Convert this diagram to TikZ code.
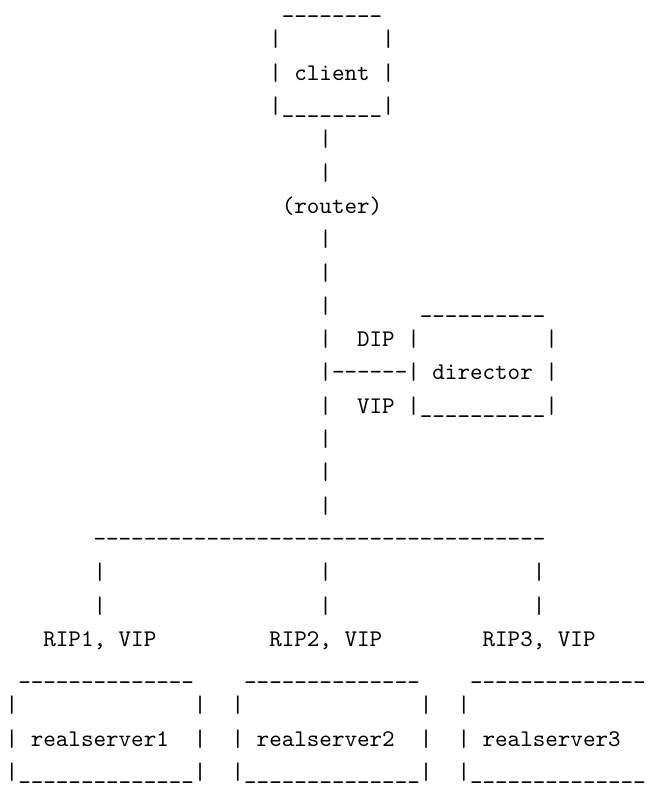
\documentclass[tikz,border=0pt]{standalone}
\newcommand\asciifont{\fontsize{10pt}{13.93pt}\selectfont\ttfamily\frenchspacing}
\newcommand\hy{\hbox{-}}
\newcommand\rep[2]{\foreach \i in {1,...,#1}{#2}}
\begin{document}
\begin{tikzpicture}[scale=2.3905, transform shape, x=5.25pt, y=-13.93pt,
  asc/.style={anchor=base west, inner sep=0pt, outer sep=0pt, font=\asciifont}]
\fill[white] (0pt,0pt) rectangle (272.33pt,-329.64pt);
\useasboundingbox (0pt,0pt) rectangle (272.33pt,-329.64pt);
\begin{scope}[shift={(0.456,0.411)}]
% client box
\node[asc] (ctop) at (22,0) {\smash{\rep{8}{\_}}};
\node[asc] (cl1) at (21,1) {|};
\node[asc] (cr1) at (30,1) {|};
\node[asc] (client) at (21,2) {| client |};
\node[asc] (cbot) at (21,3) {|\rep{8}{\_}|};
% line to router
\node[asc] (v4) at (25,4) {|};
\node[asc] (v5) at (25,5) {|};
\node[asc] (router) at (22,6) {(router)};
\node[asc] (v7) at (25,7) {|};
\node[asc] (v8) at (25,8) {|};
% director
\node[asc] (v9) at (25,9) {|};
\node[asc] (dtop) at (33,9) {\rep{10}{\_}};
\node[asc] (v10) at (25,10) {|};
\node[asc] (dip) at (28,10) {DIP};
\node[asc] (dl10) at (32,10) {|};
\node[asc] (dr10) at (43,10) {|};
\node[asc] (director) at (25,11) {|\rep{6}{\hy}| director |};
\node[asc] (v12) at (25,12) {|};
\node[asc] (vip) at (28,12) {VIP};
\node[asc] (dbot) at (32,12) {|\rep{10}{\_}|};
\node[asc] (v13) at (25,13) {|};
\node[asc] (v14) at (25,14) {|};
\node[asc] (v15) at (25,15) {|};
% bus
\node[asc] (bus) at (7,16) {\rep{36}{\hy}};
\node[asc] (a17) at (7,17) {|};
\node[asc] (b17) at (25,17) {|};
\node[asc] (c17) at (42,17) {|};
\node[asc] (a18) at (7,18) {|};
\node[asc] (b18) at (25,18) {|};
\node[asc] (c18) at (42,18) {|};
\node[asc] (rip1) at (3,19) {RIP1, VIP};
\node[asc] (rip2) at (21,19) {RIP2, VIP};
\node[asc] (rip3) at (38,19) {RIP3, VIP};
% real servers
\node[asc] (t1) at (1,20) {\rep{14}{\_}};
\node[asc] (t2) at (19,20) {\rep{14}{\_}};
\node[asc] (t3) at (37,20) {\rep{14}{\_}};
\node[asc] (l1) at (0,21) {|};
\node[asc] (r1) at (15,21) {|};
\node[asc] (l2) at (18,21) {|};
\node[asc] (r2) at (33,21) {|};
\node[asc] (l3) at (36,21) {|};
\node[asc] (rs1) at (0,22) {| realserver1};
\node[asc] (rr1) at (15,22) {|};
\node[asc] (rs2) at (18,22) {| realserver2};
\node[asc] (rr2) at (33,22) {|};
\node[asc] (rs3) at (36,22) {| realserver3};
\node[asc] (b1) at (0,23) {|\rep{14}{\_}|};
\node[asc] (b2) at (18,23) {|\rep{14}{\_}|};
\node[asc] (b3) at (36,23) {|\rep{14}{\_}};
\end{scope}
\end{tikzpicture}
\end{document}
